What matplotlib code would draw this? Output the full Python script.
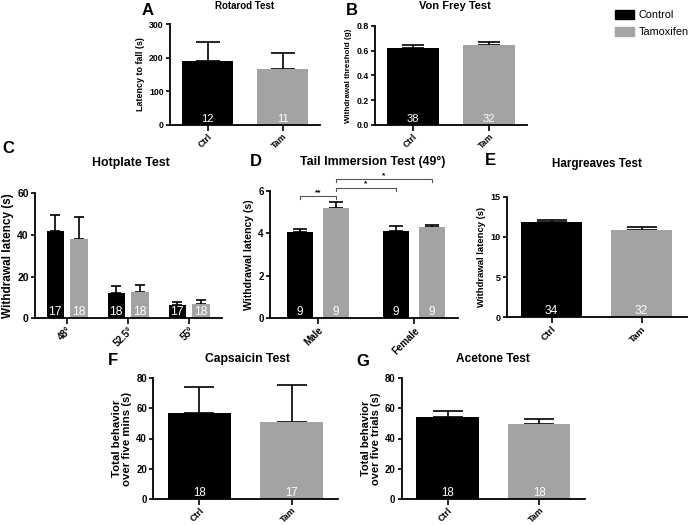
import numpy as np
import matplotlib
matplotlib.use("Agg")
import matplotlib.pyplot as plt
from matplotlib.patches import Patch

# ---- data ----
categories = ["Ctrl", "Tam"]

rotarod_mean = [190, 166]
rotarod_sem = [57, 47]
rotarod_n = [12, 11]

vonfrey_mean = [0.62, 0.645]
vonfrey_sem = [0.022, 0.022]
vonfrey_n = [38, 32]

hotplate_temps = ["48°", "52.5°", "55°"]
hotplate_ctrl = [42, 12, 6.5]
hotplate_ctrl_sem = [7.5, 3.5, 1.5]
hotplate_ctrl_n = [17, 18, 17]
hotplate_tam = [38, 12.5, 7]
hotplate_tam_sem = [10.5, 3.5, 2]
hotplate_tam_n = [18, 18, 18]

tail_sex = ["Male", "Female"]
tail_ctrl = [4.07, 4.1]
tail_ctrl_sem = [0.12, 0.22]
tail_ctrl_n = [9, 9]
tail_tam = [5.17, 4.28]
tail_tam_sem = [0.3, 0.1]
tail_tam_n = [9, 9]
# (group, bar) pairs compared, star labels and bracket heights
tail_sig_pairs = [((0, 0), (0, 1)), ((0, 1), (1, 0)), ((0, 1), (1, 1))]
tail_sig_labels = ["**", "*", "*"]
tail_sig_heights = [5.74, 6.13, 6.54]

hargreaves_mean = [11.8, 10.9]
hargreaves_sem = [0.35, 0.35]
hargreaves_n = [34, 32]

capsaicin_mean = [57, 51]
capsaicin_sem = [17, 24.5]
capsaicin_n = [18, 17]

acetone_mean = [54, 49.5]
acetone_sem = [4.5, 3.5]
acetone_n = [18, 18]

# ---- style ----
W, H = 688, 525
BLACK = "#000000"
GRAY = "#a3a3a3"
plt.rcParams["font.family"] = ["Liberation Sans", "DejaVu Sans"]


def px_box(left, top, right, bottom):
    return [left / W, 1 - bottom / H, (right - left) / W, (bottom - top) / H]


def fig_text(fig, x, y, s, **kw):
    fig.text(x / W, 1 - y / H, s, ha="center", va="baseline", **kw)


def style_axes(ax, ylim, yticks, ylabel, tick_fs, label_fs, labelpad=3):
    for side in ("top", "right"):
        ax.spines[side].set_visible(False)
    for side in ("left", "bottom"):
        ax.spines[side].set_linewidth(1.3)
    ax.set_ylim(*ylim)
    ax.set_yticks(yticks)
    ax.tick_params(direction="out", length=3, width=1.2, labelsize=tick_fs, pad=1.5)
    ax.tick_params(axis="x", length=4, pad=1)
    ax.set_ylabel(ylabel, fontsize=label_fs, fontweight="bold", labelpad=labelpad,
                  linespacing=1.0)
    for lbl in ax.get_yticklabels():
        lbl.set_fontweight("bold")


def xlabels(ax, ticks, labels, fs):
    ax.set_xticks(ticks)
    ax.set_xticklabels(labels, rotation=45, ha="right", rotation_mode="anchor",
                       fontsize=fs, fontweight="bold")


def two_bar(ax, means, sems, ns, capsize, num_fs):
    x = np.arange(len(means))
    ax.bar(x, means, width=0.68, color=[BLACK, GRAY], zorder=2)
    ax.errorbar(x, means, yerr=[np.zeros(len(sems)), sems], fmt="none",
                ecolor="black", elinewidth=1.2, capsize=capsize, capthick=1.2, zorder=1)
    for xi, n in zip(x, ns):
        ax.annotate(str(n), (xi, 0), xytext=(0, 2.5), textcoords="offset points",
                    ha="center", va="baseline", color="white", fontsize=num_fs, zorder=3)
    ax.set_xlim(-0.5, 1.5)


def grouped(ax, ctrl, ctrl_sem, ctrl_n, tam, tam_sem, tam_n, offset, width,
            capsize, num_fs):
    g = np.arange(len(ctrl))
    for pos, means, sems, ns, col in ((g - offset, ctrl, ctrl_sem, ctrl_n, BLACK),
                                      (g + offset, tam, tam_sem, tam_n, GRAY)):
        ax.bar(pos, means, width=width, color=col, zorder=2)
        ax.errorbar(pos, means, yerr=[np.zeros(len(sems)), sems], fmt="none",
                    ecolor="black", elinewidth=1.2, capsize=capsize, capthick=1.2,
                    zorder=1)
        for xi, n in zip(pos, ns):
            ax.annotate(str(n), (xi, 0), xytext=(0, 2.5), textcoords="offset points",
                        ha="center", va="baseline", color="white", fontsize=num_fs,
                        zorder=3)
    return g


fig = plt.figure(figsize=(W / 100, H / 100), dpi=100)

# A  Rotarod
ax = fig.add_axes(px_box(170, 24, 320, 125))
two_bar(ax, rotarod_mean, rotarod_sem, rotarod_n, capsize=8.5, num_fs=8)
style_axes(ax, (0, 300), [0, 100, 200, 300], "Latency to fall (s)", 6.3, 6.4)
xlabels(ax, [0, 1], categories, 6.3)
fig_text(fig, 245, 9, "Rotarod Test", fontsize=7.0, fontweight="bold")
fig_text(fig, 148, 15, "A", fontsize=12, fontweight="bold")

# B  Von Frey
ax = fig.add_axes(px_box(375, 25.7, 526.7, 125))
two_bar(ax, vonfrey_mean, vonfrey_sem, vonfrey_n, capsize=8, num_fs=8)
style_axes(ax, (0, 0.8), [0, 0.2, 0.4, 0.6, 0.8], "Withdrawal threshold (g)", 6.3, 5.8)
ax.set_yticklabels(["0.0", "0.2", "0.4", "0.6", "0.8"], fontweight="bold")
xlabels(ax, [0, 1], categories, 6.3)
fig_text(fig, 455, 9, "Von Frey Test", fontsize=8.0, fontweight="bold")
fig_text(fig, 352, 15, "B", fontsize=12, fontweight="bold")

# legend
fig.legend(handles=[Patch(color=BLACK, label="Control"), Patch(color=GRAY, label="Tamoxifen")],
           loc="upper left", bbox_to_anchor=(611 / W, 1 - 6 / H), frameon=False,
           fontsize=7.8, handlelength=1.7, handleheight=0.8, handletextpad=0.45,
           labelspacing=0.65, borderaxespad=0)

# C  Hotplate
ax = fig.add_axes(px_box(35, 193, 222, 318.3))
g = grouped(ax, hotplate_ctrl, hotplate_ctrl_sem, hotplate_ctrl_n,
            hotplate_tam, hotplate_tam_sem, hotplate_tam_n,
            offset=0.193, width=0.287, capsize=3.9, num_fs=8.8)
ax.set_xlim(-0.525, 2.54)
style_axes(ax, (0, 60), [0, 20, 40, 60], "Withdrawal latency (s)", 7.5, 8.5, labelpad=2)
xlabels(ax, g, hotplate_temps, 7)
fig_text(fig, 131, 166, "Hotplate Test", fontsize=8.9, fontweight="bold")
fig_text(fig, 8, 153, "C", fontsize=12, fontweight="bold")

# D  Tail immersion
ax = fig.add_axes(px_box(270, 190.7, 458, 318.3))
g = grouped(ax, tail_ctrl, tail_ctrl_sem, tail_ctrl_n,
            tail_tam, tail_tam_sem, tail_tam_n,
            offset=0.1875, width=0.268, capsize=4.7, num_fs=8.5)
ax.set_xlim(-0.5, 1.458)
style_axes(ax, (0, 6), [0, 2, 4, 6], "Withdrawal latency (s)", 7, 7.6, labelpad=3)
xlabels(ax, g, tail_sex, 7)
for (p1, p2), lab, h in zip(tail_sig_pairs, tail_sig_labels, tail_sig_heights):
    x1 = p1[0] + (-0.1875 if p1[1] == 0 else 0.1875)
    x2 = p2[0] + (-0.1875 if p2[1] == 0 else 0.1875)
    ax.plot([x1, x1, x2, x2], [h - 0.14, h, h, h - 0.14], color="#555555", lw=0.8,
            clip_on=False)
    ax.text((x1 + x2) / 2, h + 0.02, lab, ha="center", va="bottom", fontsize=6,
            fontweight="bold")
fig_text(fig, 373, 165, "Tail Immersion Test (49°)", fontsize=8.9, fontweight="bold")
fig_text(fig, 256, 166, "D", fontsize=12, fontweight="bold")

# E  Hargreaves
ax = fig.add_axes(px_box(506.7, 196.7, 686.7, 317.3))
two_bar(ax, hargreaves_mean, hargreaves_sem, hargreaves_n, capsize=10.5, num_fs=8.6)
style_axes(ax, (0, 15), [0, 5, 10, 15], "Withdrawal latency (s)", 6.5, 6.8)
xlabels(ax, [0, 1], categories, 6.8)
fig_text(fig, 597, 167, "Hargreaves Test", fontsize=8.4, fontweight="bold")
fig_text(fig, 490, 165, "E", fontsize=12, fontweight="bold")

# F  Capsaicin
ax = fig.add_axes(px_box(153.3, 378, 338, 499))
two_bar(ax, capsaicin_mean, capsaicin_sem, capsaicin_n, capsize=10.8, num_fs=8.3)
style_axes(ax, (0, 80), [0, 20, 40, 60, 80], "Total behavior\nover five mins (s)", 6.9, 8.2)
xlabels(ax, [0, 1], categories, 6.4)
fig_text(fig, 247, 362, "Capsaicin Test", fontsize=8.7, fontweight="bold")
fig_text(fig, 113, 365, "F", fontsize=12, fontweight="bold")

# G  Acetone
ax = fig.add_axes(px_box(401.7, 378, 585, 499))
two_bar(ax, acetone_mean, acetone_sem, acetone_n, capsize=10.8, num_fs=8.3)
style_axes(ax, (0, 80), [0, 20, 40, 60, 80], "Total behavior\nover five trials (s)", 6.9, 8.0)
xlabels(ax, [0, 1], categories, 6.4)
fig_text(fig, 493, 362, "Acetone Test", fontsize=8.6, fontweight="bold")
fig_text(fig, 363, 366, "G", fontsize=12, fontweight="bold")

fig.savefig("out.png", dpi=100)
